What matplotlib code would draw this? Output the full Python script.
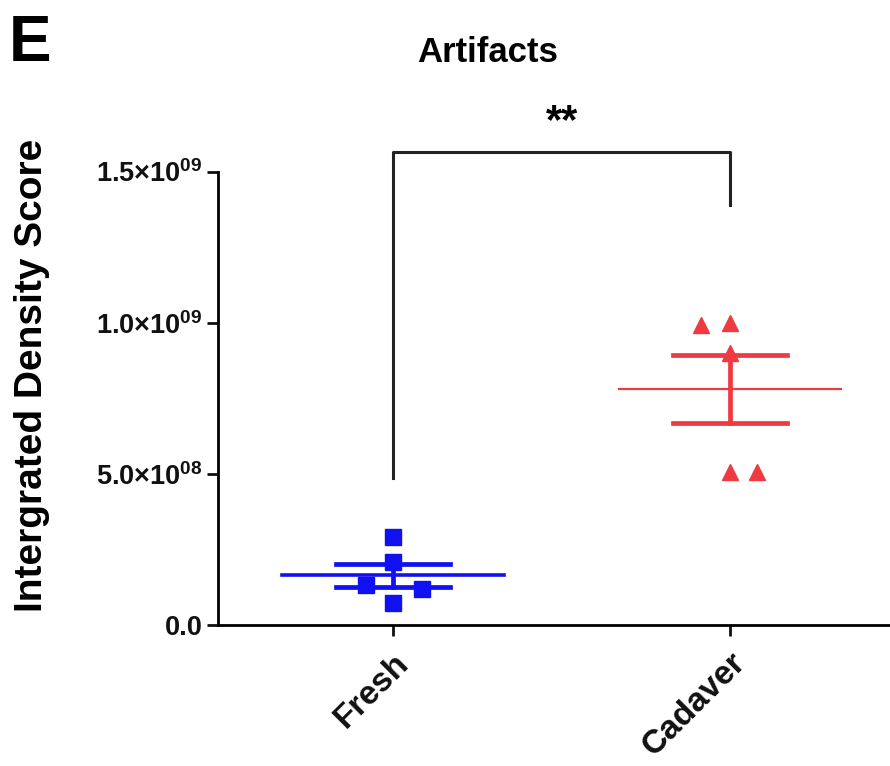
import numpy as np
import matplotlib
matplotlib.use("Agg")
import matplotlib.pyplot as plt

plt.rcParams['font.family'] = ['Liberation Sans', 'DejaVu Sans']
plt.rcParams['font.weight'] = 'bold'
plt.rcParams['mathtext.fontset'] = 'custom'
plt.rcParams['mathtext.rm'] = 'Liberation Sans:bold'
plt.rcParams['mathtext.bf'] = 'Liberation Sans:bold'

# data
groups = ['Fresh', 'Cadaver']
fresh = [2.91e8, 2.09e8, 1.32e8, 1.19e8, 0.73e8]
cadaver = [9.93e8, 1.00e9, 9.0e8, 5.07e8, 5.07e8]
yticks = [0, 5e8, 1e9, 1.5e9]
ytick_labels = ['0.0', '5.0×10$^{08}$', '1.0×10$^{09}$', '1.5×10$^{09}$']

# horizontal scatter of the points (layout only)
fresh_dx = [0, 0, -0.08, 0.085, 0]
cadaver_dx = [-0.085, 0, 0, 0, 0.08]

blue = '#1010f0'
red = '#ee3a40'

fig = plt.figure(figsize=(8.9, 7.66), dpi=100)
ax = fig.add_axes([0.245, 0.184, 0.755, 0.592])

series = [(fresh, fresh_dx, blue, 's', 2.6), (cadaver, cadaver_dx, red, '^', 1.6)]
for i, (vals, dx, col, mk, mlw) in enumerate(series):
    vals = np.array(vals)
    ax.plot(i + np.array(dx), vals, ls='none', marker=mk, ms=12, color=col, zorder=3)
    m = vals.mean()
    sem = vals.std(ddof=1) / np.sqrt(len(vals))
    ax.plot([i - 0.33, i + 0.33], [m, m], color=col, lw=mlw, zorder=4)
    ax.plot([i - 0.17, i + 0.17], [m + sem, m + sem], color=col, lw=3.4, zorder=4)
    ax.plot([i - 0.17, i + 0.17], [m - sem, m - sem], color=col, lw=3.4, zorder=4)
    ax.plot([i, i], [m - sem, m + sem], color=col, lw=3.4, zorder=4)

# significance bracket
ax.plot([0, 0, 1, 1], [4.87e8, 1.566e9, 1.566e9, 1.39e9], color='#222222', lw=2.2,
        clip_on=False)
ax.text(0.5, 1.665e9, '**', ha='center', va='center', fontsize=30, fontweight='bold',
        clip_on=False)

ax.set_xlim(-0.52, 1.475)
ax.set_ylim(0, 1.5e9)
ax.set_xticks([0, 1])
ax.set_xticklabels(groups, rotation=45, ha='right', rotation_mode='anchor',
                   fontsize=24, fontweight='bold')
ax.set_yticks(yticks)
ax.set_yticklabels(ytick_labels, fontsize=19.5, fontweight='bold')
ax.set_ylabel('Intergrated Density Score', fontsize=28, fontweight='bold')
ax.yaxis.set_label_coords(-0.25, 0.55)

for s in ['top', 'right']:
    ax.spines[s].set_visible(False)
for s in ['left', 'bottom']:
    ax.spines[s].set_linewidth(2)
ax.tick_params(axis='both', direction='out', length=8, width=2, colors='#111111')
ax.tick_params(axis='y', pad=3)
ax.tick_params(axis='x', pad=8)

fig.text(0.548, 0.932, 'Artifacts', ha='center', va='center', fontsize=25,
         fontweight='bold')
fig.text(0.01, 0.982, 'E', ha='left', va='top', fontsize=46, fontweight='bold')

fig.savefig('out.png', dpi=100, facecolor='white')
